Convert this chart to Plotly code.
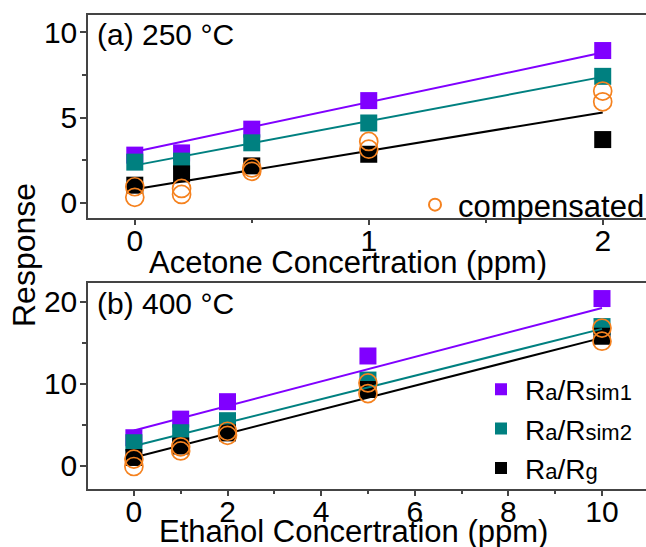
import plotly.graph_objects as go

# ---------------- data ----------------
acetone_ppm = [0, 0.2, 0.5, 1, 2]
a_sim1 = [2.80, 2.93, 4.32, 5.99, 8.92]
a_sim2 = [2.39, 2.45, 3.52, 4.68, 7.41]
a_g = [1.04, 1.70, 2.17, 2.85, 3.71]
a_comp_1 = [0.95, 0.85, 2.05, 3.60, 6.55]
a_comp_2 = [0.33, 0.50, 1.85, 3.15, 5.92]
a_fit_x = [0, 2]
a_fit_sim1 = [3.0, 8.8]
a_fit_sim2 = [2.2, 7.38]
a_fit_g = [0.8, 5.3]

ethanol_ppm = [0, 1, 2, 5, 10]
b_sim1 = [3.41, 5.68, 7.81, 13.39, 20.4]
b_sim2 = [2.80, 4.02, 5.49, 10.45, 16.98]
b_g = [1.0, 2.4, 4.0, 9.3, 15.8]
b_comp_1 = [0.8, 2.3, 4.2, 10.1, 16.8]
b_comp_2 = [-0.1, 1.8, 3.7, 8.8, 15.2]
b_fit_x = [0, 10]
b_fit_sim1 = [4.3, 19.25]
b_fit_sim2 = [2.4, 16.7]
b_fit_g = [1.0, 15.6]

names = ["R<span style='font-size:22px'>a</span>/R<span style='font-size:22px'>sim1</span>",
         "R<span style='font-size:22px'>a</span>/R<span style='font-size:22px'>sim2</span>",
         "R<span style='font-size:22px'>a</span>/R<span style='font-size:22px'>g</span>"]

PURPLE = "#8000FF"
TEAL = "#008080"
BLACK = "#000000"
ORANGE = "#F5821F"
FONT = "Arial, Liberation Sans, sans-serif"

W, H = 646, 547
fig = go.Figure()

def add_panel(xa, ya, xs, s1, s2, g, c1, c2, fx, f1, f2, fg, legend_sq, show_sq, show_c):
    for ys, col, nm in [(s1, PURPLE, names[0]), (s2, TEAL, names[1]), (g, BLACK, names[2])]:
        fig.add_trace(go.Scatter(x=xs, y=ys, mode="markers", name=nm,
                                 marker=dict(symbol="square", size=17, color=col, line=dict(width=0)),
                                 xaxis=xa, yaxis=ya, legend=legend_sq, showlegend=show_sq))
    for fy, col in [(f1, PURPLE), (f2, TEAL), (fg, BLACK)]:
        fig.add_trace(go.Scatter(x=fx, y=fy, mode="lines", line=dict(color=col, width=2),
                                 xaxis=xa, yaxis=ya, showlegend=False, hoverinfo="skip"))
    fig.add_trace(go.Scatter(x=list(xs) + list(xs), y=list(c1) + list(c2), mode="markers",
                             name="compensated",
                             marker=dict(symbol="circle-open", size=18, color=ORANGE, line=dict(width=1.7, color=ORANGE)),
                             xaxis=xa, yaxis=ya, legend="legend", showlegend=show_c))

add_panel("x", "y", acetone_ppm, a_sim1, a_sim2, a_g, a_comp_1, a_comp_2,
          a_fit_x, a_fit_sim1, a_fit_sim2, a_fit_g, "legend2", False, True)
add_panel("x2", "y2", ethanol_ppm, b_sim1, b_sim2, b_g, b_comp_1, b_comp_2,
          b_fit_x, b_fit_sim1, b_fit_sim2, b_fit_g, "legend2", True, False)

x0 = 88 / W
axis_common = dict(showline=True, linecolor="#444", linewidth=1.5, ticks="outside",
                   tickcolor="#444", tickwidth=1.5, showgrid=False, zeroline=False,
                   automargin=False,
                   tickfont=dict(family=FONT, size=30, color="black"))
xminor = dict(ticklen=3, ticks="outside", tickcolor="#444", tickwidth=1.5)
yminor = dict(ticklen=4, ticks="outside", tickcolor="#444", tickwidth=1.5)

fig.update_layout(
    width=W, height=H, margin=dict(l=0, r=0, t=0, b=0, autoexpand=False),
    paper_bgcolor="white", plot_bgcolor="white",
    font=dict(family=FONT, color="black"),
    xaxis=dict(domain=[x0, 1], anchor="y", range=[-0.2, 2.185], dtick=1, tick0=0,
               ticklen=5, mirror=True, ticklabelstandoff=-10,
               minor=dict(dtick=0.5, tick0=0, **xminor), **axis_common),
    yaxis=dict(domain=[1 - 218 / H, 1 - 15 / H], anchor="x", range=[-0.88, 11.0], dtick=5, tick0=0,
               ticklen=6, ticklabelstandoff=-3,
               minor=dict(dtick=2.5, tick0=0, **yminor), **axis_common),
    xaxis2=dict(domain=[x0, 1], anchor="y2", range=[-0.98, 10.94], dtick=2, tick0=0,
                ticklen=5, mirror=True, ticklabelstandoff=-10,
                minor=dict(dtick=1, tick0=0, **xminor), **axis_common),
    yaxis2=dict(domain=[1 - 489 / H, 1 - 283 / H], anchor="x2", range=[-2.85, 22.3], dtick=10, tick0=0,
                ticklen=6, ticklabelstandoff=-3,
                minor=dict(dtick=5, tick0=0, **yminor), **axis_common),
    legend=dict(x=412 / W, y=1 - 205 / H, xanchor="left", yanchor="middle", itemwidth=36,
                itemsizing="constant",
                bgcolor="rgba(0,0,0,0)", font=dict(family=FONT, size=31, color="black")),
    legend2=dict(x=477 / W, y=1 - 429 / H, xanchor="left", yanchor="middle", itemwidth=38,
                 itemsizing="constant",
                 bgcolor="rgba(0,0,0,0)", font=dict(family=FONT, size=28, color="black")),
    annotations=[
        dict(text="(a) 250 °C", x=95 / W, y=1 - 34 / H, xref="paper", yref="paper",
             xanchor="left", yanchor="middle", showarrow=False, font=dict(family=FONT, size=30)),
        dict(text="(b) 400 °C", x=95 / W, y=1 - 303 / H, xref="paper", yref="paper",
             xanchor="left", yanchor="middle", showarrow=False, font=dict(family=FONT, size=30)),
        dict(text="Acetone Concertration (ppm)", x=348 / W, y=1 - 262 / H, xref="paper", yref="paper",
             xanchor="center", yanchor="middle", showarrow=False, font=dict(family=FONT, size=31)),
        dict(text="Ethanol Concertration (ppm)", x=353 / W, y=1 - 531 / H, xref="paper", yref="paper",
             xanchor="center", yanchor="middle", showarrow=False, font=dict(family=FONT, size=31)),
        dict(text="Response", x=24 / W, y=1 - 255 / H, xref="paper", yref="paper", textangle=-90,
             xanchor="center", yanchor="middle", showarrow=False, font=dict(family=FONT, size=32)),
    ],
)

fig.write_html("out.html", config={"displayModeBar": False},
               post_script="document.body.style.margin='0';document.body.style.overflow='hidden';")
